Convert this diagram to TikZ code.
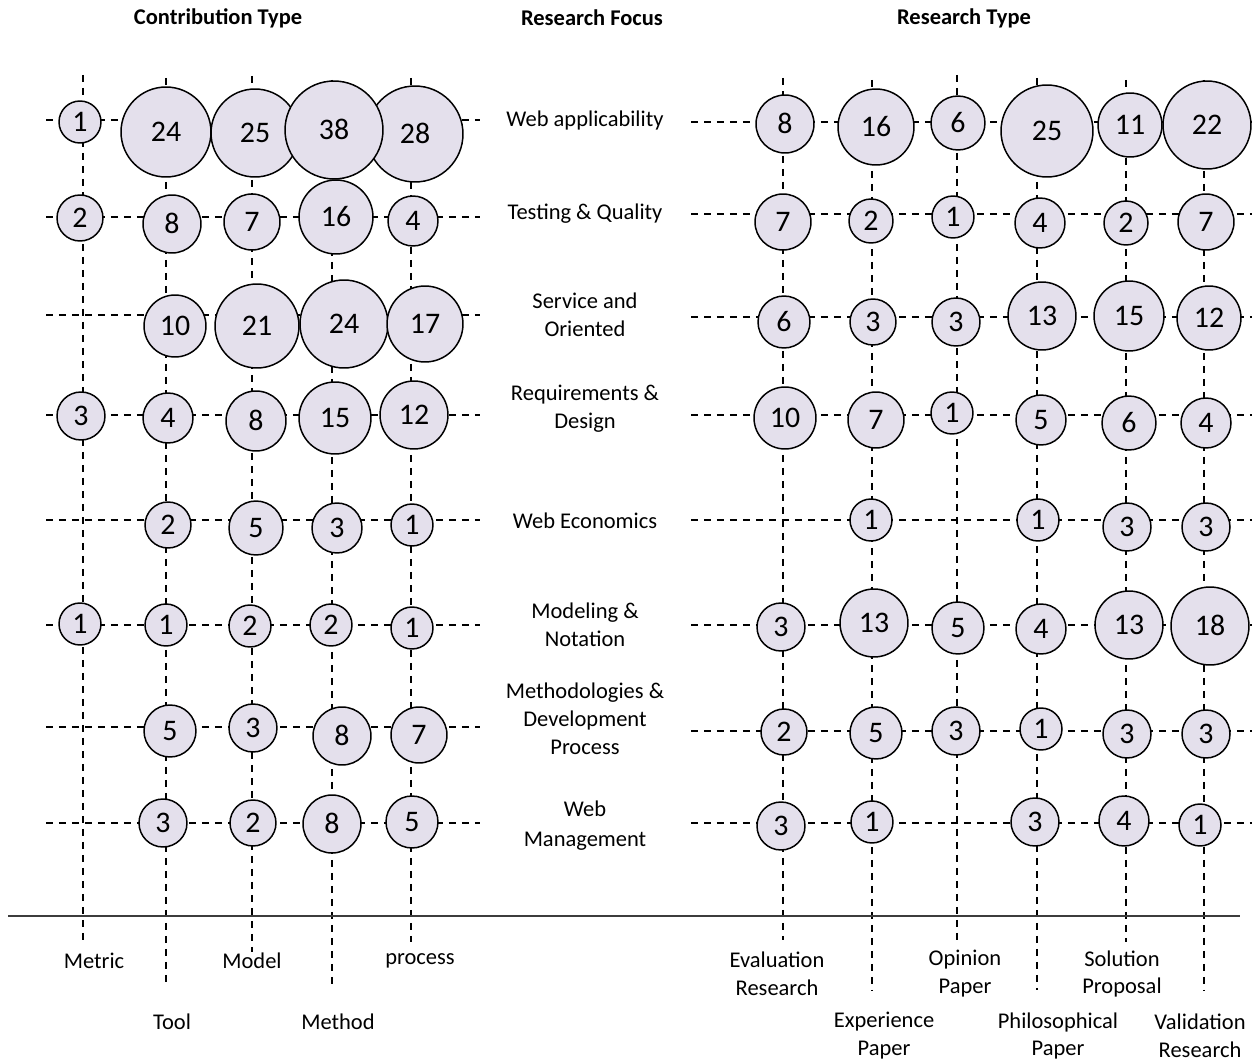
\documentclass[tikz,border=0pt]{standalone}
\usepackage{fontspec}
\setmainfont{Carlito}
\definecolor{bubfill}{RGB}{228,224,236}
\definecolor{axisgray}{RGB}{60,60,60}
\tikzset{
  bub/.style={circle, draw=black, line width=0.85pt, fill=bubfill, inner sep=0pt,
    font=\fontsize{17}{19}\selectfont, text height=10.7pt, text depth=0pt},
  gridline/.style={black, line width=0.85pt, dash pattern=on 0.14cm off 0.12cm},
  lbl/.style={font=\fontsize{12.8}{15.9}\selectfont, align=center, inner sep=0pt},
  hdr/.style={font=\fontsize{12.8}{15.9}\selectfont\bfseries, inner sep=0pt},
  axisline/.style={axisgray, line width=1.2pt}
}
\begin{document}
\begin{tikzpicture}[x=0.02cm, y=-0.02cm]
\useasboundingbox (0,0) rectangle (1252,1061);
\fill[white] (0,0) rectangle (1252,1061);

% headers
\node[hdr] (hCT) at (218,18) {Contribution Type};
\node[hdr] (hRF) at (592,18) {Research Focus};
\node[hdr] (hRT) at (964,18) {Research Type};

% left vertical grid lines
\foreach \n/\x/\t/\b in {lv1/83/75/940, lv2/166/78/985, lv3/252/76/952, lv4/332/80/985, lv5/411/78/942}{
  \coordinate (\n t) at (\x,\t);
  \coordinate (\n b) at (\x,\b);
  \draw[gridline] (\n t) -- (\n b);
}
% right vertical grid lines
\foreach \n/\x/\t/\b in {rv1/783/78/940, rv2/872/80/990, rv3/957/75/942, rv4/1037/78/990, rv5/1126/80/942, rv6/1204/80/990}{
  \coordinate (\n t) at (\x,\t);
  \coordinate (\n b) at (\x,\b);
  \draw[gridline] (\n t) -- (\n b);
}
% left horizontal grid lines
\foreach \n/\y in {lh1/120, lh2/217, lh3/315, lh4/415, lh5/520, lh6/625, lh7/727, lh8/823}{
  \coordinate (\n l) at (46,\y);
  \coordinate (\n r) at (480,\y);
  \draw[gridline] (\n l) -- (\n r);
}
% right horizontal grid lines
\foreach \n/\y in {rh1/122, rh2/214, rh3/317, rh4/415, rh5/520, rh6/625, rh7/731, rh8/823}{
  \coordinate (\n l) at (691,\y);
  \coordinate (\n r) at (1252,\y);
  \draw[gridline] (\n l) -- (\n r);
}

% axis line
\coordinate (axL) at (8,916);
\coordinate (axR) at (1240,916);
\draw[axisline] (axL) -- (axR);

% left bubbles
\foreach \n/\x/\y/\r/\v in {
  a1/80/122/21/1, a2/166/132/45/24, a3/255/133/44/25, a5/415/134/48/28, a4/334/130/49/38,
  b1/80/218/23/2, b2/172/224/29/8, b3/252/222/28/7, b5/413/221/25/4, b4/336/217/37/16,
  c2/175/326/31/10, c3/257/326/42/21, c4/344/324/44/24, c5/425/324/38/17,
  d1/81/416/24/3, d2/168/418/25/4, d3/256/421/30/8, d4/335/418/36/15, d5/414/415/34/12,
  e2/168/525/23/2, e3/256/528/27/5, e4/337/528/25/3, e5/412/525/21/1,
  f1/80/624/21/1, f2/166/625/21/1, f3/250/626/21/2, f4/331/625/21/2, f5/412/628/21/1,
  g2/170/731/26/5, g3/253/728/24/3, g4/342/736/29/8, g5/419/735/28/7,
  h2/163/823/24/3, h3/253/823/23/2, h4/332/824/29/8, h5/412/822/26/5}{
  \node[bub, minimum size=\r*0.04cm] (L\n) at (\x,\y) {\v};
}
% right bubbles
\foreach \n/\x/\y/\r/\v in {
  a1/785/124/29/8, a2/876/127/38/16, a3/958/123/27/6, a4/1047/131/46/25, a5/1130/125/32/11, a6/1207/125/44/22,
  b1/783/222/28/7, b2/871/221/22/2, b3/953/217/21/1, b4/1040/223/25/4, b5/1126/223/22/2, b6/1206/222/28/7,
  c1/784/322/26/6, c2/873/322/23/3, c3/956/322/24/3, c4/1042/316/34/13, c5/1129/316/35/15, c6/1209/318/32/12,
  d1/785/418/31/10, d2/876/420/28/7, d3/952/413/21/1, d4/1041/420/25/5, d5/1129/423/27/6, d6/1206/423/25/4,
  e2/871/520/21/1, e4/1038/520/21/1, e5/1127/527/24/3, e6/1206/527/24/3,
  f1/781/627/24/3, f2/874/623/34/13, f3/958/628/26/5, f4/1041/629/25/4, f5/1129/625/34/13, f6/1210/626/39/18,
  g1/784/732/23/2, g2/876/733/26/5, g3/956/731/24/3, g4/1041/729/21/1, g5/1127/734/24/3, g6/1206/734/24/3,
  h1/781/826/24/3, h2/872/822/21/1, h4/1035/822/24/3, h5/1124/821/25/4, h6/1200/825/21/1}{
  \node[bub, minimum size=\r*0.04cm] (R\n) at (\x,\y) {\v};
}

% research focus labels
\node[lbl] (f1) at (585,121) {Web applicability};
\node[lbl] (f2) at (585,214) {Testing \& Quality};
\node[lbl] (f3) at (585,315) {Service and\\Oriented};
\node[lbl] (f4) at (585,409) {Requirements \&\\Design};
\node[lbl] (f5) at (585,521) {Web Economics};
\node[lbl] (f6) at (585,625) {Modeling \&\\Notation};
\node[lbl] (f7) at (585,719) {Methodologies \&\\Development\\Process};
\node[lbl, align=center, font=\fontsize{12.8}{17}\selectfont] (f8) at (585,826) {Web\\Management};

% contribution type labels
\node[lbl] (tMetric) at (94,961) {Metric};
\node[lbl] (tTool) at (172,1022) {Tool};
\node[lbl] (tModel) at (252,961) {Model};
\node[lbl] (tMethod) at (338,1022) {Method};
\node[lbl] (tProcess) at (420,961) {process};

% research type labels
\node[lbl] (tEval) at (777,974) {Evaluation\\Research};
\node[lbl] (tExp) at (884,1036) {Experience\\Paper};
\node[lbl] (tOpin) at (965,974) {Opinion\\Paper};
\node[lbl] (tPhil) at (1058,1036) {Philosophical\\Paper};
\node[lbl] (tSol) at (1122,974) {Solution\\Proposal};
\node[lbl] (tVal) at (1200,1036) {Validation\\Research};
\end{tikzpicture}
\end{document}
